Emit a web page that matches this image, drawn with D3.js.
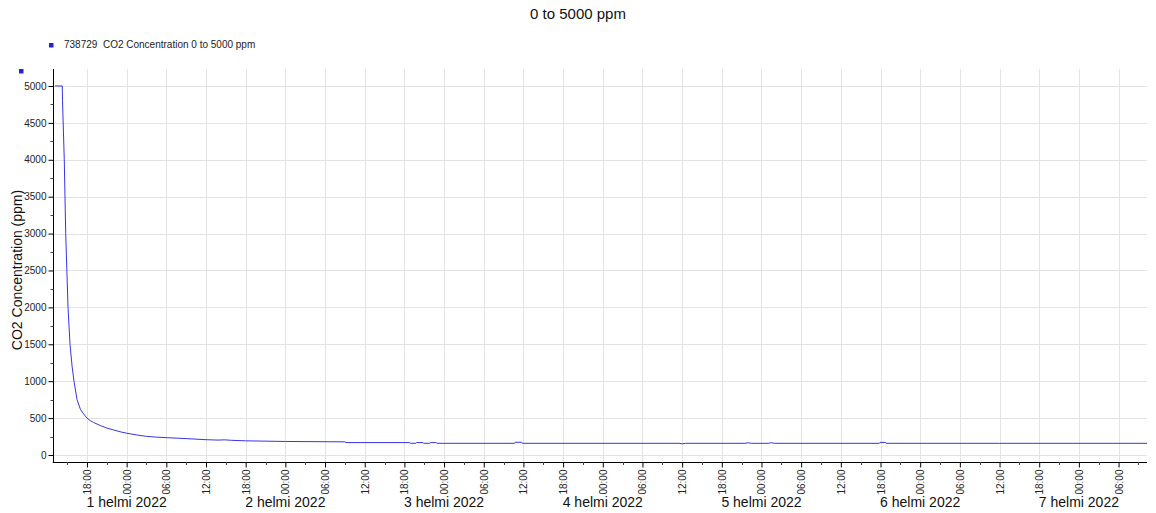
<!DOCTYPE html>
<html><head><meta charset="utf-8">
<script src="https://cdn.jsdelivr.net/npm/d3@7"></script>
<style>
body{margin:0;background:#fff;}
svg{display:block;font-family:"Liberation Sans",Arial,sans-serif;}
</style></head>
<body><svg id="c" width="1156" height="513"></svg>
<script>
const title = "0 to 5000 ppm";
const legendLabel = "738729  CO2 Concentration 0 to 5000 ppm";
const yLabel = "CO2 Concentration (ppm)";
const yTicks = [0,500,1000,1500,2000,2500,3000,3500,4000,4500,5000];
const dayLabels = ["1 helmi 2022","2 helmi 2022","3 helmi 2022","4 helmi 2022","5 helmi 2022","6 helmi 2022","7 helmi 2022"];
const dayLabelTimes = ["2022-02-02 00:00","2022-02-03 00:00","2022-02-04 00:00","2022-02-05 00:00","2022-02-06 00:00","2022-02-07 00:00","2022-02-08 00:00"];
const domainTimes = ["2022-02-01 12:49","2022-02-08 10:18"];
const times = [
 "2022-02-01 13:10","2022-02-01 14:16","2022-02-01 14:18","2022-02-01 14:34","2022-02-01 14:47","2022-02-01 15:08",
 "2022-02-01 15:26","2022-02-01 15:45","2022-02-01 16:02","2022-02-01 16:30","2022-02-01 17:00","2022-02-01 17:30",
 "2022-02-01 18:00","2022-02-01 18:30","2022-02-01 19:00","2022-02-01 20:00","2022-02-01 21:00","2022-02-01 22:00",
 "2022-02-01 23:00","2022-02-02 00:00","2022-02-02 01:30","2022-02-02 03:00","2022-02-02 04:30","2022-02-02 06:00",
 "2022-02-02 09:00","2022-02-02 12:00","2022-02-02 13:50","2022-02-02 14:50","2022-02-02 15:50","2022-02-02 18:00",
 "2022-02-03 00:00","2022-02-03 06:00","2022-02-03 09:00","2022-02-03 09:10","2022-02-03 18:50","2022-02-03 18:55",
 "2022-02-03 19:45","2022-02-03 19:50","2022-02-03 20:50","2022-02-03 20:55","2022-02-03 21:50","2022-02-03 21:55",
 "2022-02-03 22:50","2022-02-03 22:55","2022-02-04 10:40","2022-02-04 10:45","2022-02-04 11:45","2022-02-04 11:50",
 "2022-02-05 11:40","2022-02-05 12:00","2022-02-05 12:30","2022-02-05 21:30","2022-02-05 22:00","2022-02-05 22:30",
 "2022-02-06 01:00","2022-02-06 01:30","2022-02-06 02:00","2022-02-06 17:50","2022-02-06 17:55","2022-02-06 18:45",
 "2022-02-06 18:50","2022-02-07 12:00","2022-02-08 10:18"
];
const values = [
 5000,5000,4800,4000,3000,2000,
 1500,1200,1000,750,620,555,
 500,465,440,400,365,340,
 315,295,272,252,242,235,
 222,207,202,205,199,192,
 183,180,178,168,168,158,
 158,168,168,158,158,168,
 168,158,158,172,172,158,
 158,151,158,158,165,158,
 158,166,158,158,170,170,
 158,158,158
];

const parse = d3.timeParse("%Y-%m-%d %H:%M");
const data = times.map((t,i)=>({t:parse(t),v:values[i]}));

const svg = d3.select("#c");
const L = 52.7, R = 1147, T = 69, B = 462;
const x = d3.scaleTime().domain(domainTimes.map(parse)).range([L,R]);
const y = d3.scaleLinear().domain([-95,5230]).range([B,T]);

const majorX = d3.timeHour.every(6).range(x.domain()[0], x.domain()[1]);
const minorX = d3.timeHour.every(3).range(x.domain()[0], x.domain()[1]);
const minorY = d3.range(250,5001,500);

// grid
const grid = svg.append("g").attr("stroke","#e3e3e3").attr("stroke-width",1);
grid.selectAll(".gx").data(majorX).join("line")
  .attr("x1",d=>Math.round(x(d))+0.5).attr("x2",d=>Math.round(x(d))+0.5)
  .attr("y1",T).attr("y2",B);
grid.selectAll(".gy").data(yTicks).join("line")
  .attr("x1",L).attr("x2",R)
  .attr("y1",d=>Math.round(y(d))+0.5).attr("y2",d=>Math.round(y(d))+0.5);

// line
svg.append("path").datum(data)
  .attr("fill","none").attr("stroke","#3535e8").attr("stroke-width",1)
  .attr("d", d3.line().x(d=>x(d.t)).y(d=>y(d.v)).curve(d3.curveLinear));

// y axis
const yAxis = svg.append("g").attr("transform",`translate(${Math.round(L)+0.5},0)`)
  .call(d3.axisLeft(y).tickValues(yTicks).tickSize(5).tickPadding(2).tickFormat(d3.format("d")));
yAxis.select(".domain").attr("d",`M0,${T}V${B}`).attr("stroke","#000");
yAxis.selectAll("text").attr("font-size",10).attr("fill","#222");
svg.append("g").selectAll("line").data(minorY).join("line")
  .attr("x1",Math.round(L)+0.5).attr("x2",Math.round(L)-2.5)
  .attr("y1",d=>Math.round(y(d))+0.5).attr("y2",d=>Math.round(y(d))+0.5)
  .attr("stroke","#444");

// x axis
const xAxis = svg.append("g").attr("transform",`translate(0,${B+0.5})`)
  .call(d3.axisBottom(x).tickValues(majorX).tickSize(5).tickFormat(d3.timeFormat("%H:%M")));
xAxis.select(".domain").attr("d",`M${L},0H${R}`).attr("stroke","#000");
xAxis.selectAll("text").attr("font-size",10).attr("fill","#222")
  .attr("text-anchor","end").attr("dy","0.35em")
  .attr("transform","rotate(-90)").attr("x",-7).attr("y",0);
svg.append("g").selectAll("line").data(minorX.filter(d=>d.getHours()%6!==0)).join("line")
  .attr("x1",d=>Math.round(x(d))+0.5).attr("x2",d=>Math.round(x(d))+0.5)
  .attr("y1",B).attr("y2",B+3).attr("stroke","#444");

// day labels
svg.append("g").selectAll("text").data(dayLabels).join("text")
  .attr("x",(d,i)=>x(parse(dayLabelTimes[i]))).attr("y",507)
  .attr("text-anchor","middle").attr("font-size",14).attr("fill","#111").text(d=>d);

// title
svg.append("text").attr("x",578).attr("y",19).attr("text-anchor","middle")
  .attr("font-size",15).attr("fill","#111").text(title);

// legend
svg.append("rect").attr("x",49).attr("y",43).attr("width",4.5).attr("height",4.5).attr("fill","#2424d0");
svg.append("text").attr("x",64).attr("y",48).attr("font-size",10).attr("fill","#222")
  .style("white-space","pre").text(legendLabel);
svg.append("rect").attr("x",19).attr("y",69).attr("width",4.5).attr("height",4.5).attr("fill","#2424d0");

// y label
svg.append("text").attr("transform","translate(22,270) rotate(-90)")
  .attr("text-anchor","middle").attr("font-size",14).attr("fill","#111").text(yLabel);
</script></body></html>
